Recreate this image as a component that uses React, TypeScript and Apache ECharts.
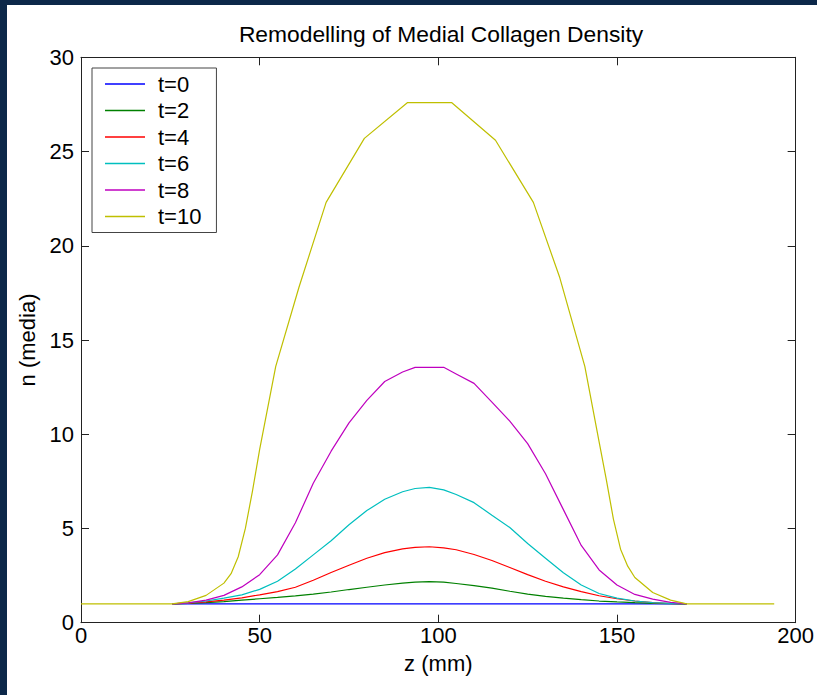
import React, { useEffect, useRef } from "react";
import * as echarts from "echarts";

// z positions (mm) shared by curves t=0..8
const zMain = [25.5, 30, 35, 40, 45, 50, 55, 60, 65, 70, 75, 80, 85, 90, 93.5, 97.5, 101.5, 105, 110, 115, 120, 125, 130, 135, 140, 145, 150, 155, 160, 165, 169.5];
const nT0 = [1, 1, 1, 1, 1, 1, 1, 1, 1, 1, 1, 1, 1, 1, 1, 1, 1, 1, 1, 1, 1, 1, 1, 1, 1, 1, 1, 1, 1, 1, 1];
const nT2 = [1.0, 1.02, 1.06, 1.12, 1.2, 1.27, 1.34, 1.42, 1.52, 1.63, 1.76, 1.88, 2.0, 2.1, 2.15, 2.18, 2.15, 2.08, 1.97, 1.83, 1.67, 1.52, 1.4, 1.3, 1.22, 1.15, 1.1, 1.06, 1.03, 1.01, 1.0];
const nT4 = [1.0, 1.04, 1.1, 1.2, 1.32, 1.48, 1.65, 1.88, 2.25, 2.66, 3.05, 3.42, 3.72, 3.92, 4.0, 4.03, 3.97, 3.87, 3.62, 3.3, 2.93, 2.55, 2.2, 1.9, 1.65, 1.43, 1.27, 1.15, 1.07, 1.02, 1.0];
const nT6 = [1.0, 1.05, 1.15, 1.3, 1.48, 1.77, 2.2, 2.85, 3.6, 4.35, 5.2, 5.95, 6.55, 6.95, 7.12, 7.18, 7.05, 6.8, 6.37, 5.7, 5.05, 4.2, 3.42, 2.65, 2.0, 1.55, 1.3, 1.15, 1.07, 1.03, 1.0];
const nT8 = [1.0, 1.05, 1.2, 1.45, 1.9, 2.55, 3.6, 5.3, 7.4, 9.1, 10.6, 11.8, 12.8, 13.3, 13.55, 13.55, 13.55, 13.2, 12.7, 11.7, 10.7, 9.5, 7.9, 6.0, 4.1, 2.8, 2.0, 1.5, 1.25, 1.08, 1.0];
// z positions (mm) and values for t=10
const zT10 = [0, 25.5, 30, 35, 40, 42, 44, 46, 48, 50, 54.5, 61, 68.6, 79.3, 91.4, 103.7, 116, 126.6, 134, 141, 145, 147, 149, 151, 153, 155, 160, 165, 169.5, 194];
const nT10 = [1, 1, 1.12, 1.45, 2.1, 2.6, 3.5, 5.0, 7.0, 9.2, 13.6, 17.8, 22.3, 25.7, 27.6, 27.6, 25.6, 22.3, 18.3, 13.6, 9.6, 7.6, 5.5, 3.9, 3.0, 2.4, 1.6, 1.2, 1.0, 1];

const seriesNames = ["t=0", "t=2", "t=4", "t=6", "t=8", "t=10"];
const seriesColors = ["#0000ff", "#008000", "#ff0000", "#00bfbf", "#bf00bf", "#bfbf00"];
const xTicks = { min: 0, max: 200, interval: 50 };
const yTicks = { min: 0, max: 30, interval: 5 };

const FONT = "'Liberation Sans', Arial, Helvetica, sans-serif";

export default function App() {
  const ref = useRef<HTMLDivElement>(null);
  useEffect(() => {
    if (!ref.current) return;
    const chart = echarts.init(ref.current, undefined, { renderer: "svg" });
    const pairs = (zs: number[], ns: number[]) => zs.map((z, i) => [z, ns[i]]);
    const allData = [
      pairs(zMain, nT0),
      pairs(zMain, nT2),
      pairs(zMain, nT4),
      pairs(zMain, nT6),
      pairs(zMain, nT8),
      pairs(zT10, nT10),
    ];
    const axisCommon = {
      axisLine: { show: true, onZero: false, lineStyle: { color: "#222", width: 1 } },
      axisTick: { show: true, inside: true, length: 8, lineStyle: { color: "#222" } },
      splitLine: { show: false },
    };
    chart.setOption({
      animation: false,
      backgroundColor: "#ffffff",
      textStyle: { fontFamily: FONT },
      title: {
        text: "Remodelling of Medial Collagen Density",
        left: 429,
        top: 12,
        textAlign: "center",
        textStyle: { fontSize: 22.8, fontWeight: "normal", color: "#000", fontFamily: FONT },
      },
      legend: {
        data: seriesNames,
        orient: "vertical",
        left: 85,
        top: 63,
        icon: "rect",
        itemWidth: 40,
        itemHeight: 1.5,
        itemGap: 4.5,
        padding: [5, 15, 5, 13],
        backgroundColor: "#ffffff",
        borderColor: "#444",
        borderWidth: 1,
        borderRadius: 0,
        textStyle: { fontSize: 22, color: "#000", fontFamily: FONT, lineHeight: 22, padding: [0, 0, 0, 8] },
      },
      grid: { left: 74, right: 20, top: 52.3, bottom: 72.3, containLabel: false },
      xAxis: [
        {
          type: "value",
          ...xTicks,
          ...axisCommon,
          position: "bottom",
          name: "z (mm)",
          nameLocation: "middle",
          nameGap: 30,
          nameTextStyle: { fontSize: 22, color: "#000", fontFamily: FONT },
          axisLabel: { fontSize: 22, color: "#000", margin: 2, fontFamily: FONT },
        },
        {
          type: "value",
          ...xTicks,
          ...axisCommon,
          position: "top",
          axisLabel: { show: false },
        },
      ],
      yAxis: [
        {
          type: "value",
          ...yTicks,
          ...axisCommon,
          position: "left",
          name: "n (media)",
          nameLocation: "middle",
          nameGap: 30,
          nameTextStyle: { fontSize: 22, color: "#000", fontFamily: FONT },
          axisLabel: { fontSize: 22, color: "#000", margin: 7, fontFamily: FONT },
        },
        {
          type: "value",
          ...yTicks,
          ...axisCommon,
          position: "right",
          axisLabel: { show: false },
        },
      ],
      series: seriesNames.map((name, i) => ({
        name,
        type: "line",
        data: allData[i],
        showSymbol: false,
        symbol: "none",
        color: seriesColors[i],
        lineStyle: { width: 1.2, color: seriesColors[i] },
        xAxisIndex: 0,
        yAxisIndex: 0,
        z: 2 + i,
      })),
    });
    return () => chart.dispose();
  }, []);
  return (
    <div style={{ position: "absolute", left: 0, top: 0, width: 817, height: 695, background: "#0c2849" }}>
      <div ref={ref} style={{ position: "absolute", left: 7, top: 5, width: 810, height: 690, background: "#fff" }} />
    </div>
  );
}
